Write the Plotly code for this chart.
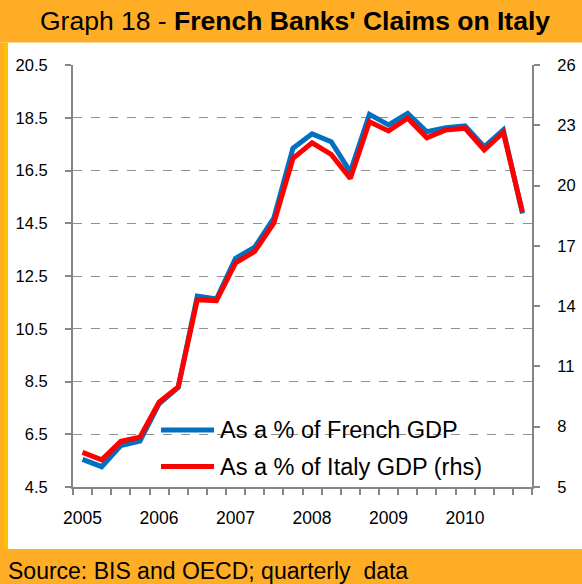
import plotly.graph_objects as go

quarters = list(range(24))  # 2005Q1 .. 2010Q4
year_labels = ["2005", "2006", "2007", "2008", "2009", "2010"]
year_positions = [0, 4, 8, 12, 16, 20]

pct_french_gdp = [5.55, 5.27, 6.07, 6.24, 7.65, 8.28, 11.74, 11.63, 13.17, 13.59, 14.69, 17.34,
                  17.89, 17.59, 16.45, 18.63, 18.23, 18.67, 17.97, 18.12, 18.19, 17.40, 18.04, 14.87]
pct_italy_gdp = [6.72, 6.35, 7.27, 7.48, 9.22, 9.98, 14.32, 14.27, 16.15, 16.72, 18.13, 21.35,
                 22.13, 21.55, 20.35, 23.18, 22.72, 23.35, 22.38, 22.77, 22.85, 21.77, 22.64, 18.69]

left_ticks = [4.5, 6.5, 8.5, 10.5, 12.5, 14.5, 16.5, 18.5, 20.5]
right_ticks = [5, 8, 11, 14, 17, 20, 23, 26]

BLUE = "#0070C0"
RED = "#FF0000"
ORANGE = "#FFAD25"
AXIS = "#868686"
FONT = "Arial, Liberation Sans, sans-serif"

fig = go.Figure()
fig.add_trace(go.Scatter(x=quarters, y=pct_french_gdp, mode="lines",
                         line=dict(color=BLUE, width=5), name="As a % of French GDP",
                         showlegend=False))
fig.add_trace(go.Scatter(x=quarters, y=pct_italy_gdp, mode="lines", yaxis="y2",
                         line=dict(color=RED, width=5), name="As a % of Italy GDP (rhs)",
                         showlegend=False))

W, H = 582, 584
L, R, T, B = 73, 50, 65, 97
pw, ph = W - L - R, H - T - B

def px_x(p):
    return (p - L) / pw

def px_y(p):
    return (H - B - p) / ph

shapes = [
    dict(type="rect", xref="paper", yref="paper", x0=px_x(-5), x1=px_x(W + 5),
         y0=px_y(42.5), y1=px_y(-5), fillcolor=ORANGE, line_width=0, layer="below"),
    dict(type="rect", xref="paper", yref="paper", x0=px_x(-5), x1=px_x(W + 5),
         y0=px_y(H + 5), y1=px_y(549), fillcolor=ORANGE, line_width=0, layer="below"),
    dict(type="rect", xref="paper", yref="paper", x0=px_x(-5), x1=px_x(4),
         y0=px_y(549), y1=px_y(42.5), fillcolor=ORANGE, line_width=0, layer="below"),
    dict(type="rect", xref="paper", yref="paper", x0=px_x(4), x1=px_x(8),
         y0=px_y(549), y1=px_y(42.5), fillcolor="#FFC000", line_width=0, layer="below"),
    dict(type="line", xref="paper", yref="paper", x0=px_x(161), x1=px_x(214),
         y0=px_y(430), y1=px_y(430), line=dict(color=BLUE, width=5)),
    dict(type="line", xref="paper", yref="paper", x0=px_x(161), x1=px_x(214),
         y0=px_y(466.5), y1=px_y(466.5), line=dict(color=RED, width=5)),
]

annotations = [
    dict(xref="paper", yref="paper", x=px_x(295), y=px_y(21), xanchor="center", yanchor="middle",
         text="Graph 18 - <b>French Banks' Claims on Italy</b>", showarrow=False,
         font=dict(family=FONT, size=26.5, color="black")),
    dict(xref="paper", yref="paper", x=px_x(6), y=px_y(571), xanchor="left", yanchor="middle",
         text="Source: BIS and OECD; quarterly  data", showarrow=False,
         font=dict(family=FONT, size=23, color="black")),
    dict(xref="paper", yref="paper", x=px_x(218), y=px_y(430), xanchor="left", yanchor="middle",
         text="As a % of French GDP", showarrow=False,
         font=dict(family=FONT, size=23.5, color="black")),
    dict(xref="paper", yref="paper", x=px_x(218), y=px_y(466.5), xanchor="left", yanchor="middle",
         text="As a % of Italy GDP (rhs)", showarrow=False,
         font=dict(family=FONT, size=23.5, color="black")),
]

fig.update_layout(
    width=W, height=H,
    margin=dict(l=L, r=R, t=T, b=B, pad=0, autoexpand=False),
    paper_bgcolor="white", plot_bgcolor="white",
    font=dict(family=FONT, size=16, color="black"),
    shapes=shapes, annotations=annotations,
    xaxis=dict(range=[-0.5, 23.5], tickmode="array", tickvals=year_positions, ticktext=year_labels,
               ticks="", showgrid=False, zeroline=False, showline=True, linecolor=AXIS, linewidth=2,
               tickfont=dict(size=17.5), ticklabelstandoff=14, automargin=False,
               minor=dict(tickmode="linear", tick0=-0.5, dtick=1, ticks="outside", ticklen=6,
                          tickcolor=AXIS, tickwidth=1.5, showgrid=False)),
    yaxis=dict(range=[4.5, 20.5], tickmode="array", tickvals=left_ticks,
               ticktext=[f"{v:.1f}" for v in left_ticks],
               ticks="outside", ticklen=6, tickcolor=AXIS, tickwidth=1.5,
               showgrid=True, gridcolor="#909090", griddash="dash", gridwidth=1.3,
               zeroline=False, showline=True, linecolor=AXIS, linewidth=2,
               tickfont=dict(size=16.5), ticklabelstandoff=14, automargin=False),
    yaxis2=dict(range=[5, 26], tickmode="array", tickvals=right_ticks,
                overlaying="y", side="right", showgrid=False, zeroline=False,
                ticks="outside", ticklen=6, tickcolor=AXIS, tickwidth=1.5,
                showline=True, linecolor=AXIS, linewidth=2,
                tickfont=dict(size=16.5), ticklabelstandoff=14, automargin=False),
)

fig.write_html("out.html", config={"displayModeBar": False},
               post_script="document.body.style.margin='0';document.body.style.overflow='hidden';")
